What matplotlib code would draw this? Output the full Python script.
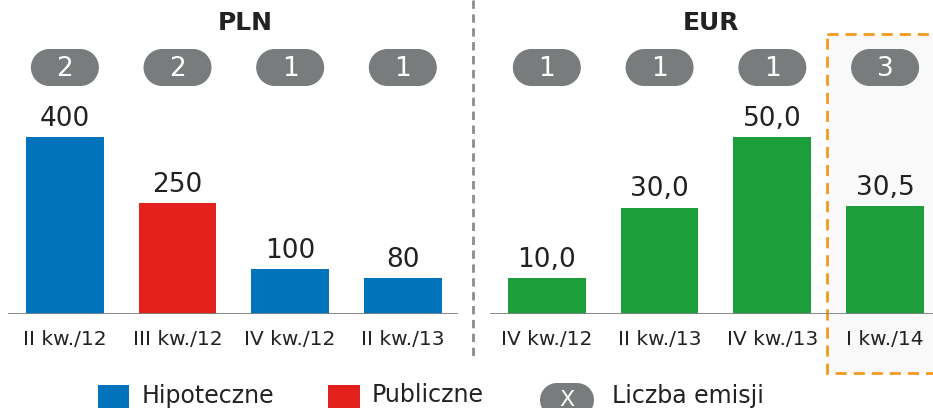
import matplotlib.pyplot as plt
from matplotlib.patches import Rectangle

# emissions by quarter, PLN (mln) and EUR (mln)
pln_quarters = ["II kw./12", "III kw./12", "IV kw./12", "II kw./13"]
pln_values = [400, 250, 100, 80]
pln_types = ["Hipoteczne", "Publiczne", "Hipoteczne", "Hipoteczne"]
pln_counts = [2, 2, 1, 1]

eur_quarters = ["IV kw./12", "II kw./13", "IV kw./13", "I kw./14"]
eur_values = [10.0, 30.0, 50.0, 30.5]
eur_counts = [1, 1, 1, 3]

BLUE = "#0073bd"
RED = "#e3201b"
GREEN = "#1c9e3a"
PILL = "#797c7c"
ORANGE = "#f39a1e"
TXT = "#222222"
type_colors = {"Hipoteczne": BLUE, "Publiczne": RED}

W, H = 933, 408
BASE = 313.5          # baseline, px from top
fig = plt.figure(figsize=(W / 100, H / 100), dpi=100)

# overlay in pixel coordinates for decorations
ov = fig.add_axes([0, 0, 1, 1])
ov.set_xlim(0, W)
ov.set_ylim(H, 0)
ov.axis("off")


def px_axes(x0, x1):
    return fig.add_axes([x0 / W, (H - BASE) / H, (x1 - x0) / W, BASE / H],
                        facecolor="none")


def capsule(cx, cy, w, h):
    # rounded capsule: rectangle plus two end circles
    ov.add_patch(Rectangle((cx - w / 2 + h / 2, cy - h / 2), w - h, h,
                           fc=PILL, ec="none"))
    for sx in (cx - w / 2 + h / 2, cx + w / 2 - h / 2):
        ov.add_patch(plt.Circle((sx, cy), h / 2, fc=PILL, ec="none"))


def pill(cx, cy, w, h, text, size=19):
    capsule(cx, cy, w, h)
    ov.text(cx, cy + 1, text, color="white", fontsize=size,
            ha="center", va="center")


# highlighted last EUR quarter
ov.add_patch(Rectangle((827, 34), 120, 339, fc="#f9f9f9", ec=ORANGE,
                       lw=2, ls=(0, (4, 2.5))))
# separator between currencies
ov.plot([473, 473], [0, 360], color="#8c8c8c", lw=2, ls=(0, (3, 2)))


def panel(ax, values, colors, labels, counts, fmt, px_per_unit):
    xs = range(len(values))
    bars = ax.bar(xs, values, width=0.69, color=colors, zorder=2)
    ax.set_ylim(0, BASE / px_per_unit)
    ax.axhline(0, color="#7f7f7f", lw=2, zorder=3)
    for b, v in zip(bars, values):
        ax.annotate(fmt(v), (b.get_x() + b.get_width() / 2, v),
                    xytext=(0, 8), textcoords="offset points",
                    ha="center", va="baseline", fontsize=19, color=TXT)
    ax.set_xticks(list(xs), labels, fontsize=14.5, color=TXT)
    ax.tick_params(axis="x", length=0, pad=12)
    ax.set_yticks([])
    for s in ax.spines.values():
        s.set_visible(False)
    # count pills above the bars
    fig.canvas.draw()
    inv = ov.transData.inverted()
    for i, c in enumerate(counts):
        cx = inv.transform(ax.transData.transform((i, 0)))[0]
        pill(cx, 67.5, 68, 37, str(c))


ax1 = px_axes(8, 458)
ax1.set_xlim(-0.505, 3.49)
panel(ax1, pln_values, [type_colors[t] for t in pln_types], pln_quarters,
      pln_counts, lambda v: f"{v:.0f}", 0.441)

ax2 = px_axes(490, 933)
ax2.set_xlim(-0.504, 3.425)
panel(ax2, eur_values, [GREEN] * 4, eur_quarters, eur_counts,
      lambda v: f"{v:.1f}".replace(".", ","), 3.53)

ov.text(245, 22.5, "PLN", fontsize=18, fontweight="bold", color=TXT,
        ha="center", va="center")
ov.text(711, 22.5, "EUR", fontsize=18, fontweight="bold", color=TXT,
        ha="center", va="center")

# legend
ov.add_patch(Rectangle((98, 385), 31, 31, fc=BLUE, ec="none"))
ov.text(142, 402.5, "Hipoteczne", fontsize=17, color=TXT, va="baseline")
ov.add_patch(Rectangle((328, 385), 32, 31, fc=RED, ec="none"))
ov.text(372, 402.5, "Publiczne", fontsize=17, color=TXT, va="baseline")
capsule(567, 400, 54, 34)
ov.text(567, 405.5, "X", color="white", fontsize=16, ha="center",
        va="baseline")
ov.text(612, 402.5, "Liczba emisji", fontsize=17, color=TXT, va="baseline")

fig.savefig("out.png", dpi=100)
